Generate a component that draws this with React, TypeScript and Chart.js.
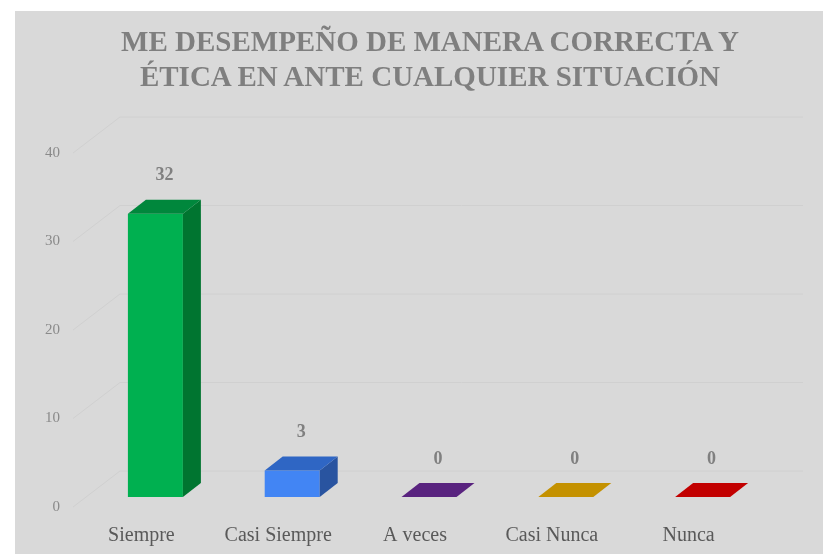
import React, { useEffect, useRef } from 'react';
import { Chart, registerables } from 'chart.js';

Chart.register(...registerables);

const titleLines = ['ME DESEMPEÑO DE MANERA CORRECTA Y', 'ÉTICA EN ANTE CUALQUIER SITUACIÓN'];
const categories = ['Siempre', 'Casi Siempre', 'A veces', 'Casi Nunca', 'Nunca'];
const values = [32, 3, 0, 0, 0];
const yTicks = [0, 10, 20, 30, 40];
const frontColors = ['#00b050', '#4285f4', '#5b2385', '#c89600', '#c00000'];
const topColors = ['#00873c', '#2f66c4', '#59237f', '#c49100', '#c20000'];
const sideColors = ['#007530', '#2954a0', '#3f1860', '#8e6a00', '#8a0000'];

const SERIF = "'Liberation Serif', 'Times New Roman', serif";

const bgPlugin = {
  id: 'bgPanel',
  beforeDraw(chart: any) {
    const { ctx, width, height } = chart;
    ctx.save();
    ctx.fillStyle = '#ffffff';
    ctx.fillRect(0, 0, width, height);
    ctx.fillStyle = '#d9d9d9';
    ctx.fillRect(15, 11, width - 15, height - 11);
    ctx.restore();
  },
};

const gridPlugin = {
  id: 'grid3d',
  beforeDatasetsDraw(chart: any) {
    const { ctx, chartArea, scales } = chart;
    const y = scales.y;
    ctx.save();
    ctx.strokeStyle = '#d0d0d0';
    ctx.lineWidth = 1;
    yTicks.forEach((v) => {
      const py = y.getPixelForValue(v);
      ctx.beginPath();
      ctx.moveTo(chartArea.left - 14, py + 10);
      ctx.lineTo(chartArea.left + 33, py - 26);
      ctx.lineTo(chartArea.right + 32, py - 26);
      ctx.stroke();
    });
    ctx.restore();
  },
};

const bar3dPlugin = {
  id: 'bar3d',
  afterDatasetsDraw(chart: any) {
    const { ctx } = chart;
    const meta = chart.getDatasetMeta(0);
    const dx = 18;
    const dy = 14;
    ctx.save();
    meta.data.forEach((el: any, i: number) => {
      const { x, y, base, width } = el.getProps(['x', 'y', 'base', 'width'], true);
      const l = x - width / 2;
      const r = x + width / 2;
      if (base - y > 0.5) {
        ctx.fillStyle = sideColors[i];
        ctx.beginPath();
        ctx.moveTo(r, y);
        ctx.lineTo(r + dx, y - dy);
        ctx.lineTo(r + dx, base - dy);
        ctx.lineTo(r, base);
        ctx.closePath();
        ctx.fill();
      }
      ctx.fillStyle = topColors[i];
      ctx.beginPath();
      ctx.moveTo(l, y);
      ctx.lineTo(l + dx, y - dy);
      ctx.lineTo(r + dx, y - dy);
      ctx.lineTo(r, y);
      ctx.closePath();
      ctx.fill();
      ctx.fillStyle = '#808080';
      ctx.font = `bold 18px ${SERIF}`;
      ctx.textAlign = 'center';
      ctx.textBaseline = 'middle';
      ctx.fillText(String(values[i]), x + dx / 2, y - 38);
    });
    ctx.restore();
  },
};

export default function App() {
  const ref = useRef<HTMLCanvasElement>(null);
  useEffect(() => {
    document.body.style.margin = '0';
    const chart = new Chart(ref.current as HTMLCanvasElement, {
      type: 'bar',
      data: {
        labels: categories,
        datasets: [
          {
            data: values,
            backgroundColor: frontColors,
            borderWidth: 0,
            barPercentage: 0.402,
            categoryPercentage: 1,
          },
        ],
      },
      options: {
        animation: false,
        responsive: false,
        layout: { padding: { top: 143, right: 52, left: 0, bottom: 0 } },
        plugins: {
          legend: { display: false },
          tooltip: { enabled: false },
          title: { display: false },
        },
        scales: {
          x: {
            grid: { display: false },
            border: { display: false },
            ticks: {
              padding: 19,
              labelOffset: -14,
              color: '#595959',
              font: { family: SERIF, size: 20 },
              maxRotation: 0,
              autoSkip: false,
            },
            afterFit: (s: any) => {
              s.height = 57;
            },
          },
          y: {
            min: 0,
            max: 40,
            grid: { display: false },
            border: { display: false },
            ticks: {
              stepSize: 10,
              padding: 19,
              labelOffset: 10,
              color: '#8a8a8a',
              font: { family: SERIF, size: 15 },
            },
            afterBuildTicks: (s: any) => {
              s.ticks = yTicks.map((v) => ({ value: v }));
            },
            afterFit: (s: any) => {
              s.width = 87;
            },
          },
        },
      },
      plugins: [bgPlugin, gridPlugin, bar3dPlugin],
    });
    return () => chart.destroy();
  }, []);

  return (
    <div style={{ position: 'relative', width: 823, height: 554 }}>
      <style>{'body{margin:0}'}</style>
      <canvas ref={ref} width={823} height={554} style={{ display: 'block' }} />
      <div
        style={{
          position: 'absolute',
          top: 24,
          left: 37,
          width: 786,
          textAlign: 'center',
          fontFamily: SERIF,
          fontWeight: 'bold',
          fontSize: 29,
          lineHeight: '35px',
          color: '#7f7f7f',
        }}
      >
        {titleLines.map((t) => (
          <div key={t}>{t}</div>
        ))}
      </div>
    </div>
  );
}
